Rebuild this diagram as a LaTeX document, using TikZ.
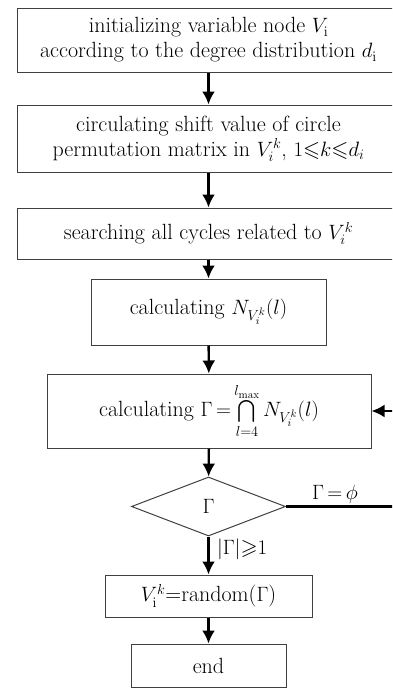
\documentclass[tikz,border=0pt]{standalone}
\usepackage{amsmath,amssymb}
\usetikzlibrary{arrows.meta,shapes.geometric}

\begin{document}
\begin{tikzpicture}[x=1pt, y=-1pt, every node/.style={font=\fontsize{22}{25}\selectfont}, >={Latex[length=13pt,width=13pt]},
	box/.style={draw=black!75, line width=1pt, inner sep=0pt, align=center},
	flow/.style={->, line width=2.4pt}]
	\useasboundingbox (0,0) rectangle (392,688);
	\clip (0,0) rectangle (392,688);
	% process boxes, top to bottom
	\node[box, minimum width=383pt, minimum height=64pt] (init) at (208.5,40) {initializing variable node $V_{\mathrm{i}}$\\according to the degree distribution $d_{\mathrm{i}}$};
	\node[box, minimum width=383pt, minimum height=67pt] (shift) at (208.5,138.5) {circulating shift value of circle\\permutation matrix in $V_i^k$, $1{\leqslant}k{\leqslant}d_i$};
	\node[box, minimum width=383pt, minimum height=51pt] (search) at (208.5,233.5) {searching all cycles related to $V_i^k$};
	\node[box, minimum width=235pt, minimum height=66pt] (calcN) at (208.5,312) {calculating $N_{V_i^k}(l)$};
	\node[box, minimum width=324pt, minimum height=74pt] (calcG) at (209,411) {calculating $\Gamma\,{=}\bigcap\limits_{l=4}^{l_{\max}} N_{V_i^k}(l)$};
	\node[box, diamond, minimum width=154pt, minimum height=59pt] (dec) at (208.5,506.5) {$\Gamma$};
	\node[box, minimum width=207pt, minimum height=42pt] (pick) at (208.5,596) {$V_{\mathrm{i}}^{k}$=random($\Gamma$)};
	\node[box, minimum width=155pt, minimum height=43pt] (stop) at (208.5,665.5) {end};
	\coordinate (fb) at (400,506.5);
	% connectors
	\foreach \a/\b in {init/shift, shift/search, search/calcN, calcN/calcG, calcG/dec, pick/stop} {
		\draw[flow] (\a) -- (\b);
	}
	\draw[flow] (dec) -- node[right, pos=0.35, xshift=4pt] {$|\Gamma|{\geqslant}1$} (pick);
	\draw[flow] (dec.east) -- node[above, pos=0.43, inner sep=2pt] {$\Gamma\,{=}\,\phi$} (fb) |- (calcG.east);
\end{tikzpicture}
\end{document}
